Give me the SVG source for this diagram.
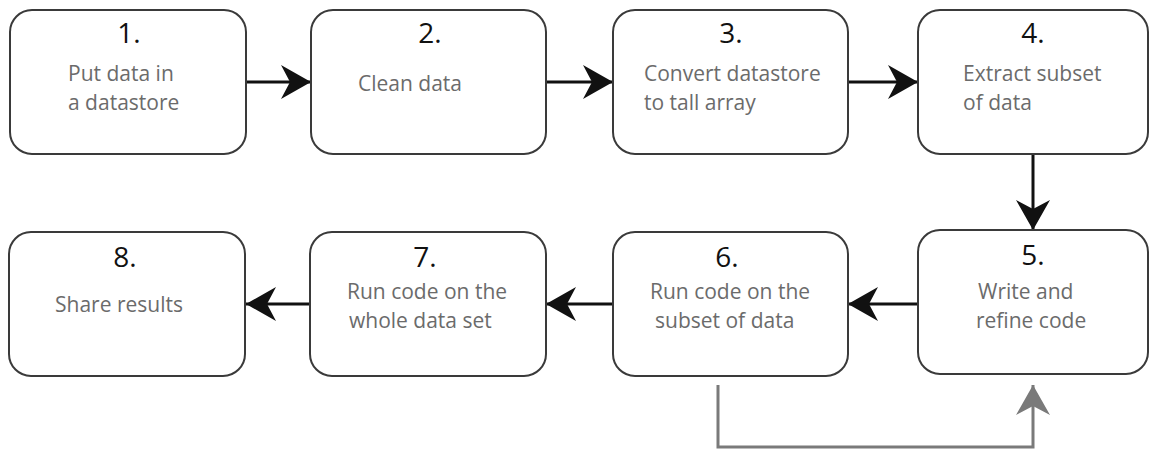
<svg xmlns="http://www.w3.org/2000/svg" width="1150" height="450" viewBox="0 0 1150 450">
<style>
.box{fill:#fff;stroke:#3a3a3a;stroke-width:2}
.num{font-family:"Open Sans","Liberation Sans",sans-serif;font-size:28px;fill:#111;text-anchor:middle}
.lbl{font-family:"Open Sans","Liberation Sans",sans-serif;font-size:21px;fill:#6b6b6b}
.arr{fill:none;stroke:#111;stroke-width:3}
.garr{fill:none;stroke:#7a7a7a;stroke-width:3}
</style>
<defs>
<marker id="ah" markerUnits="userSpaceOnUse" markerWidth="30" markerHeight="34" viewBox="0 0 30 34" refX="30" refY="17" orient="auto">
<path d="M0,0 L30,17 L0,34 L9,17 Z" fill="#111"/>
</marker>
<marker id="gah" markerUnits="userSpaceOnUse" markerWidth="30" markerHeight="34" viewBox="0 0 30 34" refX="30" refY="17" orient="auto">
<path d="M0,0 L30,17 L0,34 L9,17 Z" fill="#7a7a7a"/>
</marker>
</defs>
<g id="connectors">
<line class="arr" x1="246" y1="82" x2="311" y2="82" marker-end="url(#ah)"/>
<line class="arr" x1="546" y1="82" x2="613" y2="82" marker-end="url(#ah)"/>
<line class="arr" x1="848" y1="82" x2="918" y2="82" marker-end="url(#ah)"/>
<line class="arr" x1="1033" y1="154" x2="1033" y2="230" marker-end="url(#ah)"/>
<line class="arr" x1="918" y1="304" x2="848" y2="304" marker-end="url(#ah)"/>
<line class="arr" x1="613" y1="304" x2="546" y2="304" marker-end="url(#ah)"/>
<line class="arr" x1="310" y1="304" x2="246" y2="304" marker-end="url(#ah)"/>
<polyline class="garr" points="718,385 718,447 1033,447 1033,385" marker-end="url(#gah)"/>
</g>
<g id="node1">
<rect class="box" x="10" y="10" width="236" height="144" rx="22"/>
<text class="num" x="129" y="43">1.</text>
<text class="lbl" x="68" y="81">Put data in</text>
<text class="lbl" x="68" y="110">a datastore</text>
</g>
<g id="node2">
<rect class="box" x="311" y="10" width="235" height="144" rx="22"/>
<text class="num" x="430" y="43">2.</text>
<text class="lbl" x="358" y="91">Clean data</text>
</g>
<g id="node3">
<rect class="box" x="613" y="10" width="235" height="144" rx="22"/>
<text class="num" x="731" y="43">3.</text>
<text class="lbl" x="644" y="81">Convert datastore</text>
<text class="lbl" x="644" y="110">to tall array</text>
</g>
<g id="node4">
<rect class="box" x="918" y="10" width="230" height="144" rx="22"/>
<text class="num" x="1033" y="43">4.</text>
<text class="lbl" x="963" y="81">Extract subset</text>
<text class="lbl" x="963" y="110">of data</text>
</g>
<g id="node5">
<rect class="box" x="918" y="230" width="230" height="144" rx="22"/>
<text class="num" x="1033" y="265">5.</text>
<text class="lbl" x="978" y="299">Write and</text>
<text class="lbl" x="976" y="328">refine code</text>
</g>
<g id="node6">
<rect class="box" x="613" y="232" width="235" height="144" rx="22"/>
<text class="num" x="727" y="267">6.</text>
<text class="lbl" x="650" y="299">Run code on the</text>
<text class="lbl" x="655" y="328">subset of data</text>
</g>
<g id="node7">
<rect class="box" x="310" y="232" width="236" height="144" rx="22"/>
<text class="num" x="425" y="267">7.</text>
<text class="lbl" x="347" y="299">Run code on the</text>
<text class="lbl" x="349" y="328">whole data set</text>
</g>
<g id="node8">
<rect class="box" x="9" y="232" width="236" height="144" rx="22"/>
<text class="num" x="125" y="267">8.</text>
<text class="lbl" x="55" y="312">Share results</text>
</g>
</svg>
